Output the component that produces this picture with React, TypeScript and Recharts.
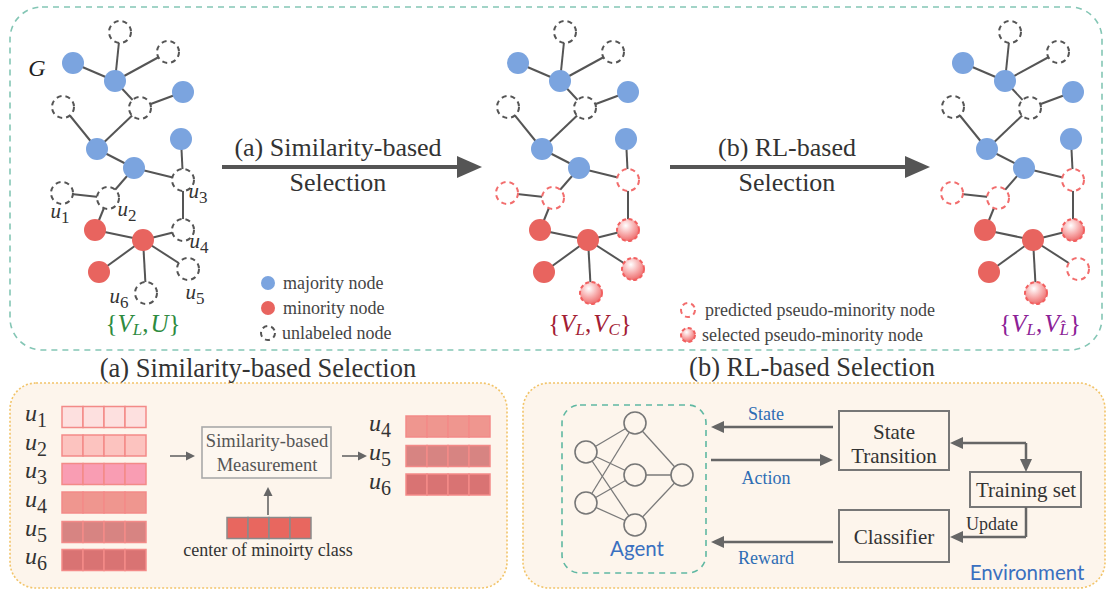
import React from 'react';
import { ScatterChart, Scatter, XAxis, YAxis, ReferenceLine, ReferenceArea } from 'recharts';

const W = 1108;
const H = 591;
const SERIF = "'Liberation Serif', 'Times New Roman', 'DejaVu Serif', serif";
const HAND = "Lato, 'Noto Sans', sans-serif";

// graph in the top row, drawn three times (shifted right)
const graphShift = [0, 445, 890];
const nodeIds = ['a1', 'a2', 'a3', 'a4', 'a5', 'a6', 'b1', 'b2', 'b3', 'h1', 'h2', 'h3', 'h4', 'u1', 'u2', 'u3', 'u4', 'u5', 'u6'];
const nodeX = [73, 115, 183, 97, 134, 181, 95, 143, 99, 120, 168, 140, 63, 62, 108, 183, 183, 188, 146];
const nodeY = [63, 81, 92, 149, 168, 139, 230, 240, 272, 32, 52, 108, 107, 193, 198, 180, 230, 269, 293];
const nodeKind = ['maj', 'maj', 'maj', 'maj', 'maj', 'maj', 'min', 'min', 'min', 'unl', 'unl', 'unl', 'unl'];
const candidateKinds = [
  ['unl', 'unl', 'unl', 'unl', 'unl', 'unl'],
  ['pred', 'pred', 'pred', 'sel', 'sel', 'sel'],
  ['pred', 'pred', 'pred', 'sel', 'pred', 'sel'],
];
const graphEdges = [
  ['a1', 'a2'], ['a2', 'h1'], ['a2', 'h2'], ['a2', 'h3'], ['h3', 'a3'], ['h3', 'a4'], ['h4', 'a4'],
  ['a4', 'a5'], ['a5', 'u2'], ['a5', 'u3'], ['a6', 'u3'], ['u1', 'u2'], ['u2', 'b1'], ['u3', 'u4'],
  ['u4', 'b2'], ['b1', 'b2'], ['b2', 'b3'], ['b2', 'u5'], ['b2', 'u6'],
];

const uLabelSub = ['1', '2', '3', '4', '5', '6'];
const uLabelX = [60, 127, 198, 199, 195, 119];
const uLabelY = [211, 209, 191, 241, 292, 296];

const setLabelX = [143, 590, 1040];
const setLabelY = [323, 323, 323];
const setSecond = ['U', 'V', 'V'];
const setSecondSub = ['', 'C', 'L\u0302'];
const setColors = ['#2e8b3f', '#a31d33', '#8c2196'];

// legends
const legendKinds = ['maj', 'min', 'unl', 'pred', 'sel'];
const legendText = ['majority node', 'minority node', 'unlabeled node', 'predicted pseudo-minority node', 'selected pseudo-minority node'];
const legendX = [268, 268, 268, 688, 688];
const legendY = [283, 308, 333, 310, 335];
const legendTextX = [283, 283, 282, 705, 702];

// (a) similarity panel
const vecShade = ['#fde0df', '#fcc3bf', '#f99db3', '#ef968f', '#d78482', '#d97373'];
const leftVecY = [417, 445.5, 474, 502.5, 532, 560];
const pickedIdx = [3, 4, 5];
const rightVecY = [426.5, 456, 484.5];

// (b) RL panel: small network in the agent box
const nnX = [586, 586, 635, 635, 635, 682];
const nnY = [452, 503, 423, 475, 525, 475];
const nnLayer = [0, 0, 1, 1, 1, 2];

const texts = [
  { x: 37, y: 68, text: 'G', role: 'graphG' },
  { x: 338, y: 147, text: '(a) Similarity-based', role: 'arrow' },
  { x: 338, y: 182, text: 'Selection', role: 'arrow' },
  { x: 787, y: 147, text: '(b) RL-based', role: 'arrow' },
  { x: 787, y: 182, text: 'Selection', role: 'arrow' },
  { x: 258, y: 368, text: '(a) Similarity-based Selection', role: 'title' },
  { x: 812, y: 367, text: '(b) RL-based Selection', role: 'title' },
  { x: 267, y: 441, text: 'Similarity-based', role: 'measure' },
  { x: 267, y: 465, text: 'Measurement', role: 'measure' },
  { x: 268, y: 550, text: 'center of minoirty class', role: 'caption' },
  { x: 766, y: 414, text: 'State', role: 'rl' },
  { x: 766, y: 478, text: 'Action', role: 'rl' },
  { x: 766, y: 558, text: 'Reward', role: 'rl' },
  { x: 894, y: 432, text: 'State', role: 'box' },
  { x: 894, y: 456, text: 'Transition', role: 'box' },
  { x: 894, y: 537, text: 'Classifier', role: 'box' },
  { x: 1026, y: 490, text: 'Training set', role: 'box' },
  { x: 992, y: 524, text: 'Update', role: 'caption' },
  { x: 637, y: 548, text: 'Agent', role: 'agent' },
  { x: 1027, y: 572, text: 'Environment', role: 'agent' },
];

const textRoles: Record<string, any> = {
  graphG: { size: 24, color: '#222', family: SERIF, italic: true, anchor: 'middle' },
  arrow: { size: 26, color: '#333', family: SERIF, anchor: 'middle' },
  title: { size: 26.5, color: '#333', family: SERIF, anchor: 'middle' },
  measure: { size: 18.5, color: '#555', family: SERIF, anchor: 'middle' },
  caption: { size: 18, color: '#333', family: SERIF, anchor: 'middle' },
  rl: { size: 18, color: '#2e6db4', family: SERIF, anchor: 'middle' },
  box: { size: 21, color: '#333', family: SERIF, anchor: 'middle' },
  agent: { size: 20.5, color: '#3a70c0', family: HAND, anchor: 'middle' },
  legend: { size: 18, color: '#444', family: SERIF, anchor: 'start' },
};

const arrows = [
  { x1: 222, y1: 167, x2: 482, y2: 167, kind: 'big' },
  { x1: 670, y1: 167, x2: 930, y2: 167, kind: 'big' },
  { x1: 170, y1: 456, x2: 195, y2: 456, kind: 'small' },
  { x1: 342, y1: 456, x2: 367, y2: 456, kind: 'small' },
  { x1: 268, y1: 515, x2: 268, y2: 487, kind: 'small' },
  { x1: 833, y1: 427, x2: 711, y2: 427, kind: 'mid' },
  { x1: 711, y1: 460, x2: 833, y2: 460, kind: 'mid' },
  { x1: 833, y1: 542, x2: 711, y2: 542, kind: 'mid' },
  { x1: 1026, y1: 443, x2: 950, y2: 443, kind: 'mid' },
  { x1: 1026, y1: 443, x2: 1026, y2: 472, kind: 'mid' },
  { x1: 1026, y1: 507, x2: 1026, y2: 537, kind: 'plain' },
  { x1: 1026, y1: 537, x2: 950, y2: 537, kind: 'mid' },
];
const arrowStyle: Record<string, any> = {
  big: { head: 25, half: 11, width: 4, color: '#555' },
  mid: { head: 13, half: 6, width: 2.5, color: '#666' },
  small: { head: 9, half: 4.5, width: 1.6, color: '#666' },
  plain: { head: 0, half: 0, width: 2.5, color: '#666' },
};

const panels = [
  { x1: 10, y1: 7, x2: 1102, y2: 350, role: 'top' },
  { x1: 10, y1: 383, x2: 507, y2: 588, role: 'sub' },
  { x1: 523, y1: 383, x2: 1105, y2: 588, role: 'sub' },
  { x1: 562, y1: 405, x2: 706, y2: 573, role: 'agent' },
  { x1: 202, y1: 427, x2: 331, y2: 478, role: 'measure' },
  { x1: 839, y1: 411, x2: 949, y2: 470, role: 'env' },
  { x1: 839, y1: 510, x2: 949, y2: 562, role: 'env' },
  { x1: 970, y1: 472, x2: 1081, y2: 507, role: 'env' },
];
const panelStyle: Record<string, any> = {
  top: { r: 32, fill: 'none', stroke: '#84c6b5', w: 1.6, dash: '6 5' },
  sub: { r: 26, fill: '#fdf5ec', stroke: '#f2c469', w: 1.6, dash: '2 2' },
  agent: { r: 18, fill: 'none', stroke: '#5fb8a2', w: 1.6, dash: '6 5' },
  measure: { r: 0, fill: '#fdf7f0', stroke: '#a9a9a9', w: 1.6, dash: '' },
  env: { r: 0, fill: 'none', stroke: '#777', w: 2, dash: '' },
};

const nodePoints = graphShift.flatMap((dx, g) =>
  nodeIds.map((id, i) => ({
    x: nodeX[i] + dx,
    y: nodeY[i],
    kind: id[0] === 'u' ? candidateKinds[g][Number(id.slice(1)) - 1] : nodeKind[i],
  })),
);

function drawNode(kind: string, cx: number, cy: number, r: number, key: string) {
  if (kind === 'maj') return <circle cx={cx} cy={cy} r={r} fill="#7ba4df" />;
  if (kind === 'min') return <circle cx={cx} cy={cy} r={r} fill="#e8645f" />;
  if (kind === 'unl')
    return <circle cx={cx} cy={cy} r={r} fill="#fff" stroke="#555" strokeWidth={2} strokeDasharray="5 4" />;
  if (kind === 'pred')
    return <circle cx={cx} cy={cy} r={r} fill="#fff" stroke="#f26d6d" strokeWidth={2} strokeDasharray="5 4" />;
  return (
    <g>
      <defs>
        <radialGradient id={key} cx="40%" cy="30%" r="75%">
          <stop offset="0%" stopColor="#ffffff" />
          <stop offset="55%" stopColor="#f7a8a8" />
          <stop offset="100%" stopColor="#ec6464" />
        </radialGradient>
      </defs>
      <circle cx={cx} cy={cy} r={r} fill={`url(#${key})`} stroke="#f26060" strokeWidth={2} strokeDasharray="4 2.5" />
    </g>
  );
}

const nodeShape = (r: number) => (p: any) =>
  drawNode(p.payload.kind, p.cx, p.cy, r, `sel-${r}-${Math.round(p.cx)}-${Math.round(p.cy)}`);

const textShape = (p: any) => {
  const d = p.payload;
  const s = textRoles[d.role];
  return (
    <text x={p.cx} y={p.cy} textAnchor={s.anchor} dominantBaseline="central"
      style={{ fontFamily: s.family, fontSize: s.size, fontStyle: s.italic ? 'italic' : 'normal' }} fill={s.color}>
      {d.text}
    </text>
  );
};

const mathShape = (p: any) => {
  const d = p.payload;
  return (
    <text x={p.cx} y={p.cy} textAnchor="middle" dominantBaseline="central" fill="#333"
      style={{ fontFamily: SERIF, fontSize: d.big ? 24 : 21 }}>
      <tspan style={{ fontStyle: 'italic' }}>u</tspan>
      <tspan style={{ fontSize: d.big ? 20 : 17 }} dy={d.big ? 7 : 6}>{d.sub}</tspan>
    </text>
  );
};

const setShape = (p: any) => {
  const d = p.payload;
  const it = { fontStyle: 'italic' as const };
  const sub = { fontStyle: 'italic' as const, fontSize: 17 };
  return (
    <text x={p.cx} y={p.cy} textAnchor="middle" dominantBaseline="central" fill={d.color}
      style={{ fontFamily: SERIF, fontSize: 25 }}>
      {'{'}
      <tspan style={it}>V</tspan>
      <tspan style={sub} dy={6}>L</tspan>
      <tspan dy={-6}>,</tspan>
      <tspan style={it} dx={2}>{d.second}</tspan>
      {d.sub ? <tspan style={sub} dy={6}>{d.sub}</tspan> : null}
      <tspan dy={d.sub ? -6 : 0}>{'}'}</tspan>
    </text>
  );
};

const arrowShape = (kind: string) => (p: any) => {
  const s = arrowStyle[kind];
  const { x1, y1, x2, y2 } = p;
  const ang = Math.atan2(y2 - y1, x2 - x1);
  const bx = x2 - s.head * Math.cos(ang);
  const by = y2 - s.head * Math.sin(ang);
  const nx = -Math.sin(ang) * s.half;
  const ny = Math.cos(ang) * s.half;
  return (
    <g>
      <line x1={x1} y1={y1} x2={bx} y2={by} stroke={s.color} strokeWidth={s.width} />
      {s.head > 0 && <polygon points={`${x2},${y2} ${bx + nx},${by + ny} ${bx - nx},${by - ny}`} fill={s.color} />}
    </g>
  );
};

const boxShape = (role: string) => (p: any) => {
  const s = panelStyle[role];
  return (
    <rect x={p.x} y={p.y} width={p.width} height={p.height} rx={s.r} ry={s.r} fill={s.fill}
      stroke={s.stroke} strokeWidth={s.w} strokeDasharray={s.dash || undefined} />
  );
};

const cellShape = (fill: string, stroke: string) => (p: any) => (
  <rect x={p.x} y={p.y} width={p.width} height={p.height} fill={fill} stroke={stroke} strokeWidth={1.5} />
);

const uLabels = [
  ...uLabelSub.map((sub, i) => ({ x: uLabelX[i], y: uLabelY[i], sub, big: false })),
  ...uLabelSub.map((sub, i) => ({ x: 36, y: leftVecY[i] - 4, sub, big: true })),
  ...pickedIdx.map((k, i) => ({ x: 380, y: rightVecY[i] - 4, sub: uLabelSub[k], big: true })),
];
const setLabels = setLabelX.map((x, i) => ({ x, y: setLabelY[i], second: setSecond[i], sub: setSecondSub[i], color: setColors[i] }));
const legendMarks = legendKinds.map((kind, i) => ({ x: legendX[i], y: legendY[i], kind }));
const legendLabels = legendText.map((text, i) => ({ x: legendTextX[i], y: legendY[i], text, role: 'legend' }));
const nnNodes = nnX.map((x, i) => ({ x, y: nnY[i] }));

export default function App() {
  const cells: any[] = [];
  const vector = (x0: number, cy: number, fill: string, stroke: string, key: string) => {
    for (let k = 0; k < 4; k++) {
      cells.push(
        <ReferenceArea key={`${key}-${k}`} x1={x0 + k * 21} x2={x0 + (k + 1) * 21} y1={cy - 10.5} y2={cy + 10.5}
          shape={cellShape(fill, stroke)} />,
      );
    }
  };
  leftVecY.forEach((cy, i) => vector(62, cy, vecShade[i], '#f38a88', `l${i}`));
  pickedIdx.forEach((k, i) => vector(406, rightVecY[i], vecShade[k], '#f38a88', `r${i}`));
  vector(227, 528, '#e8675f', '#8a8a8a', 'c');

  return (
    <div style={{ position: 'absolute', left: 0, top: 0, width: W, height: H, background: '#fff', fontFamily: SERIF }}>
      <ScatterChart width={W} height={H} margin={{ top: 0, right: 0, bottom: 0, left: 0 }}>
        <XAxis type="number" dataKey="x" domain={[0, W]} hide />
        <YAxis type="number" dataKey="y" domain={[0, H]} reversed hide />

        {panels.map((b, i) => (
          <ReferenceArea key={`p${i}`} x1={b.x1} x2={b.x2} y1={b.y1} y2={b.y2} shape={boxShape(b.role)} />
        ))}
        {cells}

        {graphShift.flatMap((dx, g) =>
          graphEdges.map(([a, b], k) => {
            const i = nodeIds.indexOf(a);
            const j = nodeIds.indexOf(b);
            return (
              <ReferenceLine key={`e${g}-${k}`} segment={[{ x: nodeX[i] + dx, y: nodeY[i] }, { x: nodeX[j] + dx, y: nodeY[j] }]}
                stroke="#555" strokeWidth={2} />
            );
          }),
        )}
        {nnX.flatMap((x, i) =>
          nnX.map((x2, j) =>
            nnLayer[j] === nnLayer[i] + 1 ? (
              <ReferenceLine key={`nn${i}-${j}`} segment={[{ x, y: nnY[i] }, { x: x2, y: nnY[j] }]} stroke="#7a7a7a" strokeWidth={1.3} />
            ) : null,
          ),
        )}
        {arrows.map((a, i) => (
          <ReferenceLine key={`a${i}`} segment={[{ x: a.x1, y: a.y1 }, { x: a.x2, y: a.y2 }]} shape={arrowShape(a.kind)} />
        ))}

        <Scatter data={nodePoints} shape={nodeShape(11)} isAnimationActive={false} />
        <Scatter data={legendMarks} shape={nodeShape(7)} isAnimationActive={false} />
        <Scatter data={nnNodes} isAnimationActive={false}
          shape={(p: any) => <circle cx={p.cx} cy={p.cy} r={11} fill="#fdf5ec" stroke="#777" strokeWidth={1.6} />} />
        <Scatter data={texts} shape={textShape} isAnimationActive={false} />
        <Scatter data={legendLabels} shape={textShape} isAnimationActive={false} />
        <Scatter data={uLabels} shape={mathShape} isAnimationActive={false} />
        <Scatter data={setLabels} shape={setShape} isAnimationActive={false} />
      </ScatterChart>
    </div>
  );
}
